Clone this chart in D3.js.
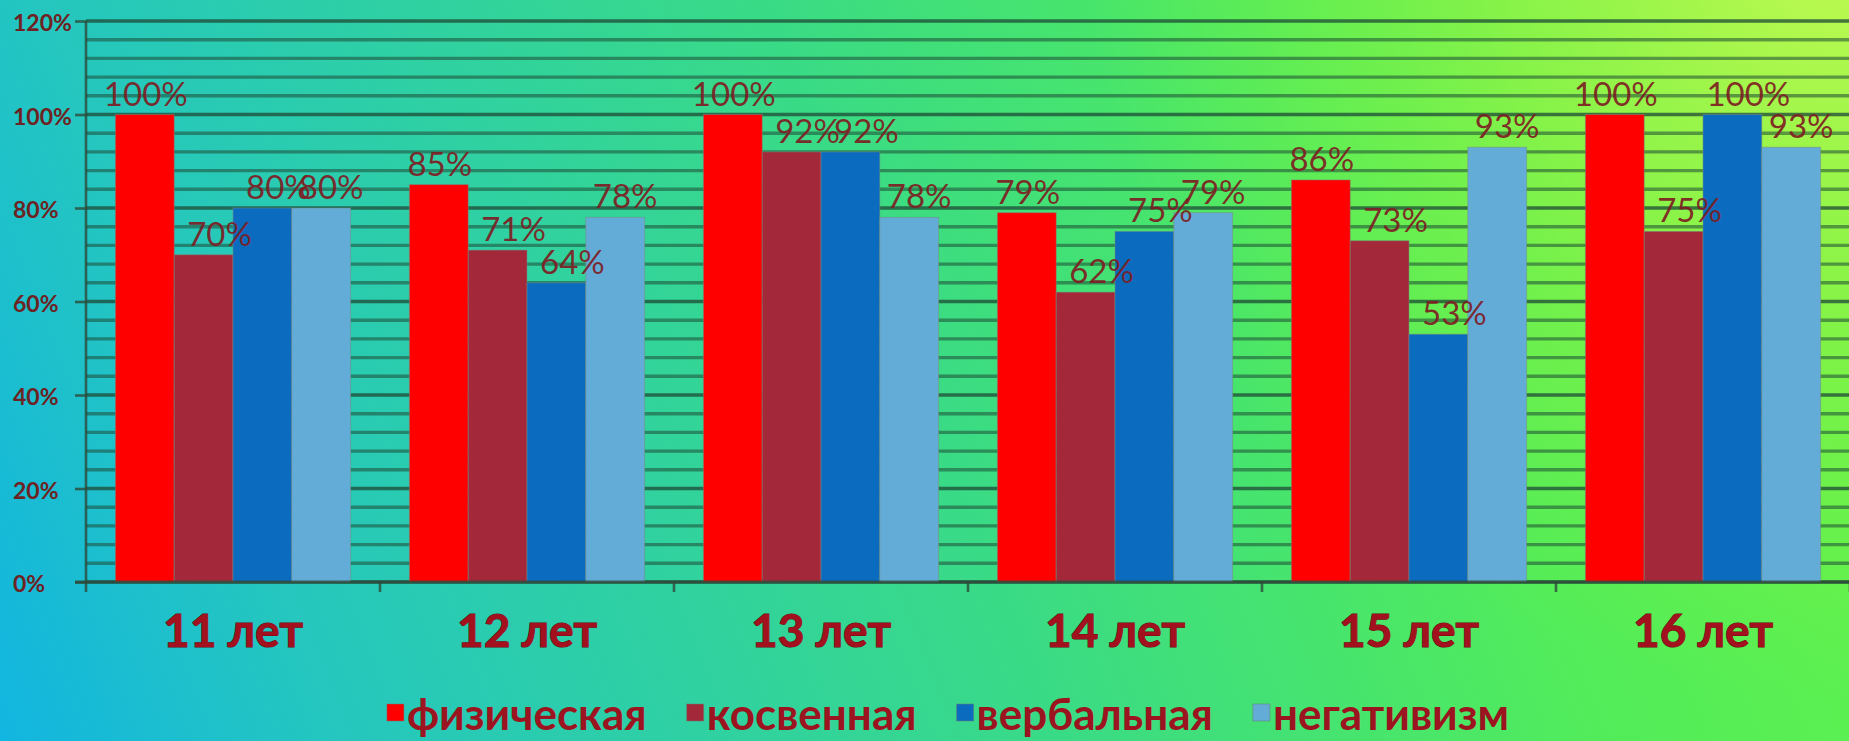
<!DOCTYPE html>
<html>
<head>
<meta charset="utf-8">
<script src="https://cdn.jsdelivr.net/npm/d3@7"></script>
<style>
  body { margin: 0; overflow: hidden; }
  svg { display: block; }
  text { font-family: Lato, "Liberation Sans", sans-serif; }
</style>
</head>
<body>
<div id="container"></div>
<script>
let w = 1849;
let h = 741;

// data
let ages = ["11 лет", "12 лет", "13 лет", "14 лет", "15 лет", "16 лет"];
let seriesNames = ["физическая", "косвенная", "вербальная", "негативизм"];
let physical = [1.00, 0.85, 1.00, 0.79, 0.86, 1.00];
let indirect = [0.70, 0.71, 0.92, 0.62, 0.73, 0.75];
let verbal = [0.80, 0.64, 0.92, 0.75, 0.53, 1.00];
let negativism = [0.80, 0.78, 0.78, 0.79, 0.93, 0.93];
let yTicks = [0, 0.2, 0.4, 0.6, 0.8, 1.0, 1.2];

let seriesValues = [physical, indirect, verbal, negativism];
let colors = ["#ff0000", "#a3283a", "#0b6cbf", "#64acd8"];
let labelShift = [1, 16, 16, 10];

let plotLeft = 86;
let plotRight = 1850;
let plotTop = 21;
let plotBottom = 582;

let viz = d3.select("#container")
  .append("svg")
  .attr("width", w)
  .attr("height", h);

// background: diagonal gradient + yellow glow top right
let defs = viz.append("defs");
let grad = defs.append("linearGradient")
  .attr("id", "bg")
  .attr("gradientUnits", "userSpaceOnUse")
  .attr("x1", 0).attr("y1", h)
  .attr("x2", w).attr("y2", 0);
grad.append("stop").attr("offset", "0").attr("stop-color", "#12b5e0");
grad.append("stop").attr("offset", "0.15").attr("stop-color", "#24c6c0");
grad.append("stop").attr("offset", "0.5").attr("stop-color", "#3adb85");
grad.append("stop").attr("offset", "0.75").attr("stop-color", "#52ec5a");
grad.append("stop").attr("offset", "1").attr("stop-color", "#66f448");

let glow = defs.append("radialGradient")
  .attr("id", "glow")
  .attr("gradientUnits", "userSpaceOnUse")
  .attr("cx", w).attr("cy", -60)
  .attr("r", 760);
glow.append("stop").attr("offset", "0").attr("stop-color", "#c4fa52").attr("stop-opacity", 1);
glow.append("stop").attr("offset", "0.45").attr("stop-color", "#98f445").attr("stop-opacity", 0.75);
glow.append("stop").attr("offset", "1").attr("stop-color", "#70f040").attr("stop-opacity", 0);

viz.append("rect")
  .attr("width", w)
  .attr("height", h)
  .attr("fill", "url(#bg)");
viz.append("rect")
  .attr("width", w)
  .attr("height", h)
  .attr("fill", "url(#glow)");

let y = d3.scaleLinear().domain([0, 1.2]).range([plotBottom, plotTop]);

let x0 = d3.scaleBand().domain(ages).range([plotLeft, plotRight]).padding(0);
let bw = x0.bandwidth();
let x1 = d3.scaleBand().domain(d3.range(4)).range([bw * 0.1, bw * 0.9]).padding(0);

// gridlines every 4%
let minor = d3.range(0, 121, 4).map(d => d / 100);
viz.append("g")
  .selectAll("line")
  .data(minor)
  .enter()
  .append("line")
  .attr("x1", plotLeft)
  .attr("x2", w)
  .attr("y1", d => y(d))
  .attr("y2", d => y(d))
  .attr("stroke", "#1d4a35")
  .attr("stroke-opacity", d => Math.round(d * 100) % 20 == 0 ? 0.75 : 0.55)
  .attr("stroke-width", 3.4);

// y axis
let yAxis = d3.axisLeft(y)
  .tickValues(yTicks)
  .tickSize(11)
  .tickFormat(d3.format(".0%"));

let yg = viz.append("g")
  .attr("transform", `translate(${plotLeft},0)`)
  .call(yAxis);
yg.select(".domain").attr("stroke", "#2d4a3a").attr("stroke-opacity", 0.8).attr("stroke-width", 2.6)
  .attr("d", `M0,${plotTop}V${plotBottom}`);
yg.selectAll(".tick line").attr("stroke", "#2d4a3a").attr("stroke-opacity", 0.8).attr("stroke-width", 2.6);
yg.selectAll(".tick text")
  .attr("x", 13 - plotLeft)
  .attr("dy", "0.42em")
  .attr("text-anchor", "start")
  .attr("font-size", 23)
  .attr("font-weight", "bold")
  .attr("fill", "#6e2222");

// bars
let groups = viz.append("g")
  .selectAll("g")
  .data(ages)
  .enter()
  .append("g")
  .attr("transform", d => `translate(${x0(d)},0)`);

groups.selectAll("rect")
  .data((d, i) => seriesValues.map((s, k) => ({ k: k, v: s[i] })))
  .enter()
  .append("rect")
  .attr("x", d => x1(d.k))
  .attr("width", x1.bandwidth())
  .attr("y", d => y(d.v))
  .attr("height", d => plotBottom - y(d.v))
  .attr("fill", d => colors[d.k])
  .attr("stroke", "#7a8a80")
  .attr("stroke-opacity", 0.5)
  .attr("stroke-width", 1);

groups.selectAll(".lbl")
  .data((d, i) => seriesValues.map((s, k) => ({ k: k, v: s[i] })))
  .enter()
  .append("text")
  .attr("class", "lbl")
  .attr("x", d => x1(d.k) + x1.bandwidth() / 2 + labelShift[d.k])
  .attr("y", d => y(d.v) - 9)
  .attr("text-anchor", "middle")
  .attr("font-size", 33)
  .attr("fill", "#7e1c22")
  .attr("fill-opacity", 0.92)
  .text(d => Math.round(d.v * 100) + "%");

// x axis
let xAxis = d3.axisBottom(x0).tickSize(0).tickFormat(d => d);
let xg = viz.append("g")
  .attr("transform", `translate(0,${plotBottom})`)
  .call(xAxis);
xg.select(".domain").attr("stroke", "#2d4a3a").attr("stroke-opacity", 0.8).attr("stroke-width", 2.8)
  .attr("d", `M${plotLeft - 11},0H${w}`);
xg.selectAll(".tick text")
  .attr("y", 65)
  .attr("dy", 0)
  .attr("font-size", 46)
  .attr("font-weight", "bold")
  .attr("fill", "#a3101e")
  .attr("stroke", "#6a0810")
  .attr("stroke-width", 1)
  .attr("paint-order", "stroke");

// category separator ticks
viz.append("g")
  .selectAll("line")
  .data(ages.concat(["end"]))
  .enter()
  .append("line")
  .attr("x1", (d, i) => plotLeft + i * bw)
  .attr("x2", (d, i) => plotLeft + i * bw)
  .attr("y1", plotBottom)
  .attr("y2", plotBottom + 10)
  .attr("stroke", "#2d4a3a")
  .attr("stroke-opacity", 0.8)
  .attr("stroke-width", 2.6);

// legend
let legend = viz.append("g").attr("transform", "translate(0,730)");
let items = legend.selectAll("g")
  .data(seriesNames)
  .enter()
  .append("g");

items.append("rect")
  .attr("y", -26)
  .attr("width", 17)
  .attr("height", 17)
  .attr("fill", (d, i) => colors[i])
  .attr("stroke", "#6a7a70")
  .attr("stroke-opacity", 0.5);

items.append("text")
  .attr("x", 20)
  .attr("font-size", 44)
  .attr("font-weight", "bold")
  .attr("fill", "#9c1420")
  .text(d => d);

let gap = 40;
let cx = 0;
let offsets = [];
items.each(function () {
  offsets.push(cx);
  cx += this.getBBox().width + gap;
});
let total = cx - gap;
let start = 948 - total / 2;
items.attr("transform", (d, i) => `translate(${start + offsets[i]},0)`);
</script>
</body>
</html>
